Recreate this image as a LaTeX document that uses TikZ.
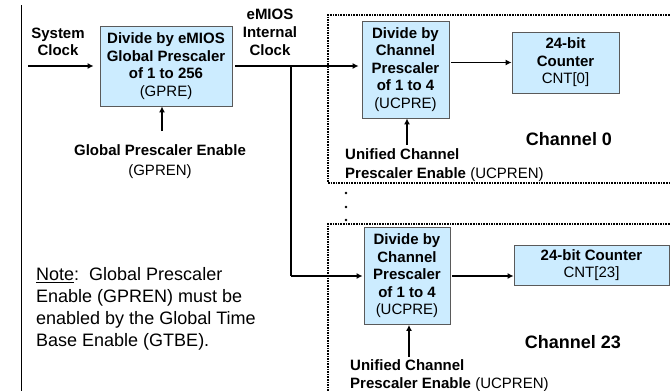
\documentclass[tikz,border=0pt]{standalone}
\usepackage{fontspec}
\setmainfont{Liberation Sans}
\usetikzlibrary{arrows.meta}
\definecolor{boxblue}{RGB}{204,236,255}
\definecolor{boxedge}{RGB}{90,90,90}
\newcommand\bfb{\fontsize{15}{17.5}\selectfont\bfseries}
\newcommand\rgb{\fontsize{15}{17.5}\selectfont\mdseries}
\tikzset{
  blk/.style={draw=boxedge, line width=0.8pt, fill=boxblue, align=center, inner sep=1pt, font=\bfb},
  conn/.style={line width=1.9pt, -{Latex[length=6pt,width=6pt]}},
  wire/.style={line width=1.9pt},
  lbl/.style={align=center, font=\bfb, inner sep=0pt},
  chbox/.style={line width=1.8pt, dash pattern=on 1.6pt off 1pt},
}
\begin{document}
\begin{tikzpicture}[x=1pt,y=-1pt]
\useasboundingbox (0,0) rectangle (670,391);
% left rule
\draw[line width=0.8pt] (21,5) -- (21,391);
% channel frames
\draw[chbox] (680,15) -- (328,15) -- (328,183) -- (680,183);
\draw[chbox] (680,224) -- (328,224) -- (328,400);
% blocks
\node[blk, minimum width=132pt, minimum height=80pt] (gpre) at (166,66)
  {Divide by eMIOS\\Global Prescaler\\of 1 to 256\\{\rgb(GPRE)}};
\node[blk, minimum width=87pt, minimum height=97pt] (p0) at (405.5,69.5)
  {Divide by\\Channel\\Prescaler\\of 1 to 4\\{\rgb(UCPRE)}};
\node[blk, minimum width=107pt, minimum height=61pt] (c0) at (565.5,62.5)
  {24-bit\\Counter\\{\rgb CNT[0]}};
\node[blk, minimum width=86pt, minimum height=97pt] (p23) at (407,276)
  {Divide by\\Channel\\Prescaler\\of 1 to 4\\{\rgb(UCPRE)}};
\node[blk, minimum width=155pt, minimum height=40pt] (c23) at (591.5,265)
  {24-bit Counter\\{\rgb CNT[23]}};
% labels
\node[lbl] (sysclk) at (58,42) {System\\Clock};
\node[lbl, font=\fontsize{15}{18}\selectfont\bfseries] (intclk) at (270,32) {eMIOS\\Internal\\Clock};
\node[lbl, font=\fontsize{15}{20}\selectfont\bfseries] (gpren) at (160,162) {Global Prescaler Enable\\{\rgb(GPREN)}};
\node[lbl, align=left, anchor=west, font=\fontsize{15}{19}\selectfont\bfseries] (ucpren0) at (345,165.5)
  {Unified Channel\\Prescaler Enable {\rgb(UCPREN)}};
\node[lbl, align=left, anchor=west, font=\fontsize{15}{18}\selectfont\bfseries] (ucpren23) at (350,375.5)
  {Unified Channel\\Prescaler Enable {\rgb(UCPREN)}};
\node[lbl, font=\fontsize{18}{20}\selectfont\bfseries] (ch0) at (569,139) {Channel 0};
\node[lbl, font=\fontsize{18}{20}\selectfont\bfseries] (ch23) at (573,342) {Channel 23};
\node[lbl, align=left, anchor=west, font=\fontsize{18}{22}\selectfont] (note) at (36,309)
  {\underline{Note}:\ \ Global Prescaler\\Enable (GPREN) must be\\enabled by the Global Time\\Base Enable (GTBE).};
% ellipsis dots
\foreach \yy/\nm in {193/d1,207/d2,220/d3}
  \fill (346,\yy) circle (1.3pt) coordinate (\nm);
% connectors
\coordinate (sysin) at (28,66);
\draw[conn, shorten >=6pt] (sysin) -- (sysin -| gpre.west);
\coordinate (gin) at (162,131);
\draw[conn] (gin) -- (gin |- gpre.south);
\draw[conn, shorten <=3pt, shorten >=3pt] (gpre.east) -- (gpre.east -| p0.west);
\coordinate (j) at (291,66);
\draw[wire] (j) -- (291,276);
\draw[conn, shorten >=1pt] (291,276) -- (p23.west);
\draw[conn, shorten <=2pt] (p0.east |- c0.west) -- (c0.west);
\draw[conn, shorten <=2pt] (p23.east) -- (p23.east -| c23.west);
\coordinate (u0) at (407,145);
\draw[conn] (u0) -- (u0 |- p0.south);
\coordinate (u23) at (409,357);
\draw[conn] (u23) -- (u23 |- p23.south);
\end{tikzpicture}
\end{document}
